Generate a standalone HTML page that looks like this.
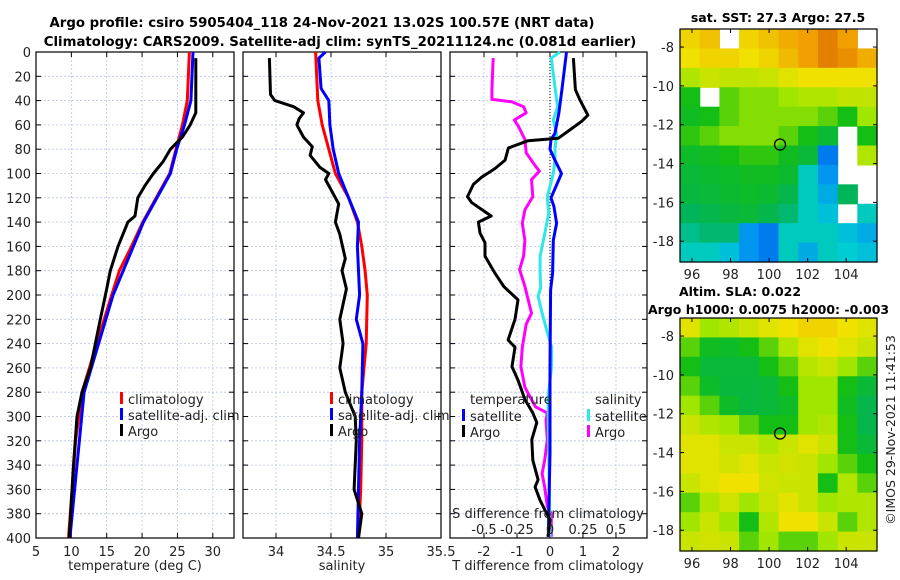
<!DOCTYPE html>
<html><head><meta charset="utf-8">
<style>
body{margin:0;background:#fff;}
svg{display:block;font-family:"DejaVu Sans","Liberation Sans",sans-serif;}
</style></head>
<body>
<svg id="fig" width="900" height="580" viewBox="0 0 900 580" xmlns="http://www.w3.org/2000/svg">
<text x="322" y="27" font-size="13.3" font-weight="bold" text-anchor="middle">Argo profile: csiro 5905404_118 24-Nov-2021 13.02S 100.57E (NRT data)</text>
<text x="340" y="46" font-size="13.3" font-weight="bold" text-anchor="middle">Climatology: CARS2009. Satellite-adj clim: synTS_20211124.nc (0.081d earlier)</text>
<text x="778" y="22" font-size="12.5" font-weight="bold" text-anchor="middle">sat. SST: 27.3 Argo: 27.5</text>
<text x="740" y="296" font-size="12.5" font-weight="bold" text-anchor="middle">Altim. SLA: 0.022</text>
<text x="648" y="314" font-size="12.5" font-weight="bold">Argo h1000: 0.0075 h2000: -0.003</text>
<text transform="translate(895,430) rotate(-90)" font-size="12.5" text-anchor="middle" fill="#222">©IMOS 29-Nov-2021 11:41:53</text>
</svg>
<script>
// ---------- data ----------
const tDepthClim=[0,40,60,80,100,120,140,160,180,200,240,280,320,360,400];
const tClim=[26.7,26.4,25.7,24.8,23.9,22.0,20.1,18.5,16.8,15.7,13.6,11.5,10.6,10.1,9.6];
const tDepthSat=[0,40,60,80,100,140,200,280,400];
const tSat=[27.2,26.9,26.0,24.9,24.0,20.2,15.9,11.8,9.8];
const tDepthArgo=[5,50,60,70,80,90,100,110,120,135,140,160,180,195,220,260,280,300,340,400];
const tArgo=[27.6,27.6,26.8,25.7,24.0,23.0,21.6,20.4,19.4,19.0,18.0,16.6,15.5,15.0,14.1,12.7,11.5,10.8,10.3,9.7];

const sDepthClim=[0,40,60,80,100,120,140,160,180,200,240,280,320,360,400];
const sClim=[34.36,34.38,34.42,34.48,34.54,34.66,34.74,34.78,34.81,34.83,34.82,34.78,34.78,34.77,34.75];
const sDepthSat=[0,5,30,40,60,80,100,120,140,160,180,200,220,240,280,320,400];
const sSat=[34.45,34.39,34.41,34.48,34.49,34.52,34.57,34.66,34.75,34.74,34.75,34.76,34.73,34.79,34.78,34.76,34.74];
const sDepthArgo=[5,35,40,45,50,55,60,70,78,85,95,100,105,115,125,140,150,170,180,195,220,240,260,280,300,320,340,360,380,400];
const sArgo=[33.94,33.95,33.99,34.16,34.25,34.21,34.19,34.25,34.33,34.31,34.40,34.48,34.45,34.51,34.57,34.54,34.58,34.63,34.60,34.64,34.58,34.61,34.58,34.63,34.72,34.73,34.72,34.71,34.78,34.75];

const dtDepthArgo=[5,31,39,52,57,63,71,73,79,89,96,103,109,119,124,135,140,149,157,168,182,193,204,220,237,243,259,270,286,297,305,319,336,352,358,369,377,385,399];
const dtArgo=[0.71,0.77,0.9,1.15,0.96,0.66,0.25,-0.66,-1.26,-1.36,-1.67,-2.07,-2.32,-2.5,-2.37,-1.78,-2.17,-2.12,-1.97,-1.97,-1.67,-1.4,-0.97,-1.06,-1.27,-1.06,-1.15,-0.97,-0.76,-0.52,-0.4,-0.55,-0.52,-0.36,-0.45,-0.3,-0.15,0,-0.06];
const dtDepthSat=[0,31,50,67,72,80,89,100,105,120,127,141,155,182,196,260,330,399];
const dtSat=[0.5,0.36,0.27,0.15,0.03,0.0,0.15,0.35,0.27,0.03,0.12,0.2,0.1,0.08,0.02,0.0,0.0,-0.05];
const dsDepthSat=[0,5,31,45,56,67,80,89,100,119,133,155,168,182,194,201,215,229,243,259,284,399];
const dsSat=[0.076,0.01,0.04,0.058,0.025,0.05,0.038,0.038,0.025,-0.02,-0.01,-0.05,-0.075,-0.075,-0.07,-0.09,-0.06,-0.025,0.012,0.012,-0.015,0];
const dsDepthArgo=[5,31,39,41,45,50,56,61,72,83,94,98,105,119,130,141,155,168,179,193,215,224,243,259,276,292,297,303,319,336,347,358,374,380,399];
const dsArgo=[-0.43,-0.44,-0.44,-0.29,-0.2,-0.18,-0.27,-0.24,-0.19,-0.18,-0.11,-0.08,-0.14,-0.13,-0.19,-0.21,-0.19,-0.2,-0.23,-0.19,-0.14,-0.18,-0.21,-0.22,-0.19,-0.11,-0.02,-0.03,-0.02,-0.04,-0.06,-0.04,-0.02,0.01,0.01];

const depthTicks=[0,20,40,60,80,100,120,140,160,180,200,220,240,260,280,300,320,340,360,380,400];
const tTicks=[5,10,15,20,25,30];
const sTicks=[34,34.5,35,35.5];
const dTTicks=[-2,-1,0,1,2];
const dTLabels=["-2","-1","0","1","2"];
const dSTicks=[-0.5,-0.25,0,0.25,0.5];
const dSLabels=["-0.5","-0.25","0","0.25","0.5"];

const lonTicks=[96,98,100,102,104];
const latTicks=[-8,-10,-12,-14,-16,-18];
const argoLon=100.57, argoLat=-13.02;
const sstGrid=[
[0.72,0.75,null,0.72,0.75,0.78,0.8,0.84,0.8,null],
[0.7,0.72,0.72,0.7,0.72,0.76,0.8,0.84,0.82,0.78],
[0.62,0.65,0.64,0.64,0.65,0.68,0.7,0.7,0.7,0.7],
[0.5,null,0.55,0.58,0.58,0.6,0.62,0.62,0.64,0.64],
[0.48,0.5,0.55,0.58,0.58,0.58,0.58,0.55,0.5,0.6],
[0.52,0.55,0.58,0.58,0.58,0.55,0.5,0.45,null,0.5],
[0.47,0.48,0.5,0.52,0.52,0.48,0.45,0.1,null,0.62],
[0.45,0.46,0.47,0.48,0.48,0.46,0.3,0.15,null,null],
[0.44,0.45,0.46,0.47,0.46,0.42,0.3,0.2,0.4,null],
[0.4,0.42,0.44,0.45,0.42,0.38,0.3,0.25,null,0.3],
[0.35,0.38,0.38,0.15,0.1,0.3,0.3,0.3,0.25,0.2],
[0.3,0.3,0.25,0.15,0.1,0.3,0.2,0.3,0.28,0.25]];
const slaGrid=[
[0.68,0.6,0.62,0.65,0.68,0.7,0.72,0.72,0.7,0.68],
[0.55,0.48,0.47,0.5,0.55,0.62,0.68,0.7,0.68,0.65],
[0.5,0.45,0.45,0.45,0.5,0.55,0.63,0.65,0.6,0.55],
[0.55,0.47,0.44,0.44,0.45,0.5,0.6,0.6,0.5,0.45],
[0.6,0.55,0.47,0.44,0.45,0.47,0.6,0.6,0.48,0.42],
[0.65,0.62,0.6,0.55,0.5,0.5,0.6,0.62,0.5,0.42],
[0.68,0.68,0.65,0.65,0.62,0.65,0.68,0.65,0.5,0.45],
[0.68,0.68,0.66,0.68,0.65,0.66,0.65,0.6,0.55,0.5],
[0.65,0.68,0.7,0.7,0.66,0.65,0.65,0.5,0.62,0.55],
[0.55,0.62,0.66,0.6,0.65,0.68,0.65,0.6,0.62,0.62],
[0.6,0.65,0.6,0.5,0.62,0.7,0.7,0.65,0.55,0.62],
[0.65,0.66,0.65,0.55,0.6,0.55,0.55,0.6,0.65,0.65]];

// ---------- drawing ----------
const NS="http://www.w3.org/2000/svg";
const svg=document.getElementById('fig');
function mk(tag,attrs,parent){const e=document.createElementNS(NS,tag);for(const k in attrs)e.setAttribute(k,attrs[k]);(parent||svg).appendChild(e);return e;}
const Y0=52,Y1=538;
const yD=d=>Y0+(Y1-Y0)*d/400;

function panel(name,x0,x1,dmin,dmax,ticks,labels,showY){
  const g=mk('g',{});
  
  
  const xs=v=>x0+(x1-x0)*(v-dmin)/(dmax-dmin);
  ticks.forEach(t=>{const gl=mk('line',{x1:xs(t),x2:xs(t),y1:Y0,y2:Y1,stroke:'#b8c4e8','stroke-width':0.8,'stroke-dasharray':'2,2'},g);
    });
  depthTicks.forEach(d=>{const gl=mk('line',{x1:x0,x2:x1,y1:yD(d),y2:yD(d),stroke:'#b8c4e8','stroke-width':0.8,'stroke-dasharray':'2,2'},g);
    
    mk('line',{x1:x0,x2:x0+5,y1:yD(d),y2:yD(d),stroke:'#000'},g);mk('line',{x1:x1-5,x2:x1,y1:yD(d),y2:yD(d),stroke:'#000'},g);
    if(showY){const t=mk('text',{x:x0-5,y:yD(d)+5,'font-size':13,'text-anchor':'end',fill:'#222'},g);t.textContent=d;
      }});
  ticks.forEach((t,i)=>{if(labels){const tx=mk('text',{x:xs(t),y:556,'font-size':13,'text-anchor':'middle',fill:'#222'},g);tx.textContent=labels[i];
    }
    mk('line',{x1:xs(t),x2:xs(t),y1:Y1,y2:Y1-5,stroke:'#000'},g);mk('line',{x1:xs(t),x2:xs(t),y1:Y0,y2:Y0+5,stroke:'#000'},g);});
  const b=mk('rect',{x:x0,y:Y0,width:x1-x0,height:Y1-Y0,fill:'none',stroke:'#000','stroke-width':1.2},g);
  
  return {g,xs};
}
function line(p,depths,vals,color,name,xs){
  const pts=depths.map((d,i)=>xs(vals[i]).toFixed(1)+','+yD(d).toFixed(1)).join(' ');
  const l=mk('polyline',{points:pts,fill:'none',stroke:color,'stroke-width':3,'stroke-linejoin':'round'},p.g);
  
  
}
function txt(x,y,s,name,attrs,parent){const t=mk('text',Object.assign({x:x,y:y,'font-size':13,fill:'#222'},attrs||{}),parent);t.textContent=s;
  return t;}
function legend(x,y,items,name){
  const g=mk('g',{});
  
  
  items.forEach((it,i)=>{mk('rect',{x:x,y:y+i*16-12,width:3,height:12,fill:it[1]},g);txt(x+8,y+i*16,it[0],'legend-entry',{},g);});
}

// Panel 1 temperature
const p1=panel('temperature-panel',36,234,5,33,tTicks,tTicks.map(String),true);
line(p1,tDepthClim,tClim,'#f00','temperature-climatology-line',p1.xs);
line(p1,tDepthSat,tSat,'#00f','temperature-satellite-line',p1.xs);
line(p1,tDepthArgo,tArgo,'#000','temperature-argo-line',p1.xs);
txt(135,570,'temperature (deg C)','x-axis-title-temperature',{'text-anchor':'middle'});
legend(120,404,[['climatology','#f00'],['satellite-adj. clim','#00f'],['Argo','#000']],'temperature-legend');

// Panel 2 salinity
const p2=panel('salinity-panel',243,441,33.7,35.5,sTicks,['34','34.5','35','35.5'],false);
line(p2,sDepthClim,sClim,'#f00','salinity-climatology-line',p2.xs);
line(p2,sDepthSat,sSat,'#00f','salinity-satellite-line',p2.xs);
line(p2,sDepthArgo,sArgo,'#000','salinity-argo-line',p2.xs);
txt(342,570,'salinity','x-axis-title-salinity',{'text-anchor':'middle'});
legend(330,404,[['climatology','#f00'],['satellite-adj. clim','#00f'],['Argo','#000']],'salinity-legend');

// Panel 3 differences
const p3=panel('difference-panel',450,647,-3.03,2.94,dTTicks,dTLabels,false);
const xsS=v=>p3.xs(v*4);
const zl=mk('line',{x1:p3.xs(0),x2:p3.xs(0),y1:Y0,y2:Y1,stroke:'#000','stroke-width':1,'stroke-dasharray':'1,2'},p3.g);

line(p3,dsDepthArgo,dsArgo,'#f0f','salinity-diff-argo-line',xsS);
line(p3,dsDepthSat,dsSat,'#2ee8e8','salinity-diff-satellite-line',xsS);
line(p3,dtDepthSat,dtSat,'#00f','temperature-diff-satellite-line',p3.xs);
line(p3,dtDepthArgo,dtArgo,'#000','temperature-diff-argo-line',p3.xs);
txt(470,404,'temperature','legend-title-temperature');
txt(595,404,'salinity','legend-title-salinity');
legend(462,421,[['satellite','#00f'],['Argo','#000']],'temperature-diff-legend');
legend(587,421,[['satellite','#2ee8e8'],['Argo','#f0f']],'salinity-diff-legend');
txt(548,518,'S difference from climatology','s-axis-title',{'text-anchor':'middle'});
dSTicks.forEach((t,i)=>txt(xsS(t),534,dSLabels[i],'s-axis-tick-label',{'text-anchor':'middle'}));
txt(548,570,'T difference from climatology','x-axis-title-tdiff',{'text-anchor':'middle'});

// Maps
const cmapStops=[[0,[0,70,230]],[0.15,[0,150,240]],[0.28,[0,205,210]],[0.4,[0,180,90]],[0.5,[20,190,20]],[0.6,[160,230,0]],[0.7,[240,225,0]],[0.8,[240,160,0]],[0.9,[210,80,0]],[1,[160,0,0]]];
function cmap(v){for(let i=1;i<cmapStops.length;i++){if(v<=cmapStops[i][0]){const a=cmapStops[i-1],b=cmapStops[i];const f=(v-a[0])/(b[0]-a[0]);
  const c=a[1].map((x,j)=>Math.round(x+(b[1][j]-x)*f));return 'rgb('+c.join(',')+')';}}return 'rgb(160,0,0)';}
function map(name,grid,yTop){
  const x0=680,x1=877,y0=yTop,y1=yTop+233;
  const lon0=95.38,lon1=105.6,lat0=-7.07,lat1=-19.07;
  const xl=v=>x0+(x1-x0)*(v-lon0)/(lon1-lon0);
  const yl=v=>y0+(y1-y0)*(v-lat0)/(lat1-lat0);
  const g=mk('g',{});
  
  
  const rows=grid.length,cols=grid[0].length;
  const cw=(x1-x0)/cols,ch=(y1-y0)/rows;
  grid.forEach((row,r)=>row.forEach((v,c)=>{if(v===null)return;
    const cell=mk('rect',{x:(x0+c*cw).toFixed(2),y:(y0+r*ch).toFixed(2),width:(cw+0.6).toFixed(2),height:(ch+0.6).toFixed(2),fill:cmap(v)},g);
    }));
  const b=mk('rect',{x:x0,y:y0,width:x1-x0,height:y1-y0,fill:'none',stroke:'#000','stroke-width':1.2},g);
  
  lonTicks.forEach(t=>{mk('line',{x1:xl(t),x2:xl(t),y1:y1,y2:y1-4,stroke:'#000'},g);mk('line',{x1:xl(t),x2:xl(t),y1:y0,y2:y0+4,stroke:'#000'},g);
    txt(xl(t),y1+17,String(t),'lon-tick-label',{'text-anchor':'middle'},g);});
  latTicks.forEach(t=>{mk('line',{x1:x0,x2:x0+4,y1:yl(t),y2:yl(t),stroke:'#000'},g);mk('line',{x1:x1,x2:x1-4,y1:yl(t),y2:yl(t),stroke:'#000'},g);
    txt(x0-6,yl(t)+5,String(t),'lat-tick-label',{'text-anchor':'end'},g);});
  const m=mk('circle',{cx:xl(argoLon),cy:yl(argoLat),r:5.5,fill:'none',stroke:'#000','stroke-width':1.3},g);
  
}
map('sst-map',sstGrid,29);
map('sla-map',slaGrid,318);
</script>
</body></html>
